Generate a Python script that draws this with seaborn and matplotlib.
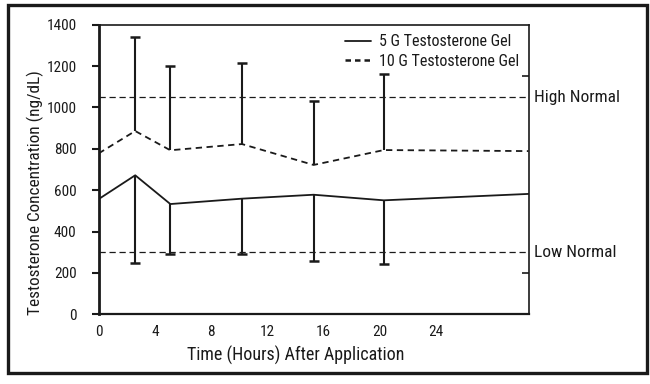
import matplotlib
matplotlib.use("Agg")
import matplotlib.pyplot as plt
import seaborn as sns
import pandas as pd
from matplotlib.patches import Rectangle
from matplotlib.lines import Line2D

# ---- data ----
hours = [0, 2.6, 5.1, 10.2, 15.3, 20.3, 30.6]
gel5_mean = [557, 672, 533, 559, 578, 551, 582]
gel10_mean = [778, 886, 793, 823, 722, 794, 789]

err_hours = [2.6, 5.1, 10.2, 15.3, 20.3]
gel5_err_mean = [672, 533, 559, 578, 551]
gel5_lower = [249, 293, 293, 259, 245]
gel10_err_mean = [886, 793, 823, 722, 794]
gel10_upper = [1340, 1199, 1216, 1033, 1160]

high_normal = 1049
low_normal = 300

x_ticks = [0, 4, 8, 12, 16, 20, 24]
y_ticks = [0, 200, 400, 600, 800, 1000, 1200, 1400]
right_ticks = [200, 1150]

series_names = ["5 G Testosterone Gel", "10 G Testosterone Gel"]

df = pd.DataFrame({
    "hours": hours * 2,
    "conc": gel5_mean + gel10_mean,
    "series": [series_names[0]] * len(hours) + [series_names[1]] * len(hours),
})

sns.set_style("white")
plt.rcParams["font.family"] = ["Roboto Condensed", "DejaVu Sans"]

fig = plt.figure(figsize=(6.5, 3.84), dpi=100)
ax = fig.add_axes([98.7 / 650, 1 - 314.3 / 384, (528.5 - 98.7) / 650, (314.3 - 24.7) / 384])

ink = "#1a1a1a"

sns.lineplot(data=df, x="hours", y="conc", hue="series", style="series",
             palette=[ink, ink], dashes={series_names[0]: "", series_names[1]: (3.5, 2.5)},
             linewidth=1.3, ax=ax, legend=False, sort=False)

# reference lines
ax.axhline(high_normal, color=ink, lw=0.9, dashes=(5, 3))
ax.axhline(low_normal, color=ink, lw=0.9, dashes=(5, 3))

# one-sided error bars
ax.vlines(err_hours, gel5_lower, gel5_err_mean, color=ink, lw=1.5)
ax.plot(err_hours, gel5_lower, ls="none", marker="_", ms=7, mew=1.8, color=ink)
ax.vlines(err_hours, gel10_err_mean, gel10_upper, color=ink, lw=1.5)
ax.plot(err_hours, gel10_upper, ls="none", marker="_", ms=7, mew=1.8, color=ink)

ax.set_xlim(0, 30.6)
ax.set_ylim(0, 1400)
ax.set_xticks(x_ticks)
ax.set_yticks(y_ticks)
ax.tick_params(axis="x", length=0, pad=8, labelsize=11, colors=ink)
ax.tick_params(axis="y", length=5, width=1.5, direction="out", pad=11, labelsize=11, colors=ink, left=True)

for side, lw in [("left", 2.0), ("bottom", 1.6), ("top", 1.2), ("right", 1.2)]:
    ax.spines[side].set_visible(True)
    ax.spines[side].set_linewidth(lw)
    ax.spines[side].set_color(ink)

# right side inward ticks without labels
ax2 = ax.twinx()
ax2.set_ylim(0, 1400)
ax2.set_yticks(right_ticks)
ax2.set_yticklabels([])
ax2.tick_params(axis="y", direction="in", length=5, width=1.2, colors=ink)
for s in ax2.spines.values():
    s.set_visible(False)

ax.set_xlabel("Time (Hours) After Application", fontsize=13, color=ink)
ax.set_ylabel("Testosterone Concentration (ng/dL)", fontsize=12.4, color=ink)
ax.xaxis.set_label_coords(0.458, -0.11)
ax.yaxis.set_label_coords(-0.127, 0.42)

# range labels
ax.text(1.012, high_normal, "High Normal", transform=ax.get_yaxis_transform(),
        va="center", ha="left", fontsize=12.5, color=ink)
ax.text(1.012, low_normal, "Low Normal", transform=ax.get_yaxis_transform(),
        va="center", ha="left", fontsize=12.5, color=ink)

# legend
handles = [Line2D([], [], color=ink, lw=1.3),
           Line2D([], [], color=ink, lw=1.8, dashes=(2.2, 1.6))]
ax.legend(handles, series_names, loc="upper right", bbox_to_anchor=(1.0, 1.0),
          frameon=False, fontsize=11.5, handlelength=1.6, handletextpad=0.5,
          labelspacing=0.3, borderpad=0.4, borderaxespad=0.2, labelcolor=ink)

# outer frame
fig.patches.append(Rectangle((7.5 / 650, 1 - 373 / 384), (646.5 - 7.5) / 650, (373 - 4.5) / 384,
                             transform=fig.transFigure, fill=False, lw=2.4, edgecolor=ink))

fig.savefig("out.png", dpi=100, facecolor="white")
